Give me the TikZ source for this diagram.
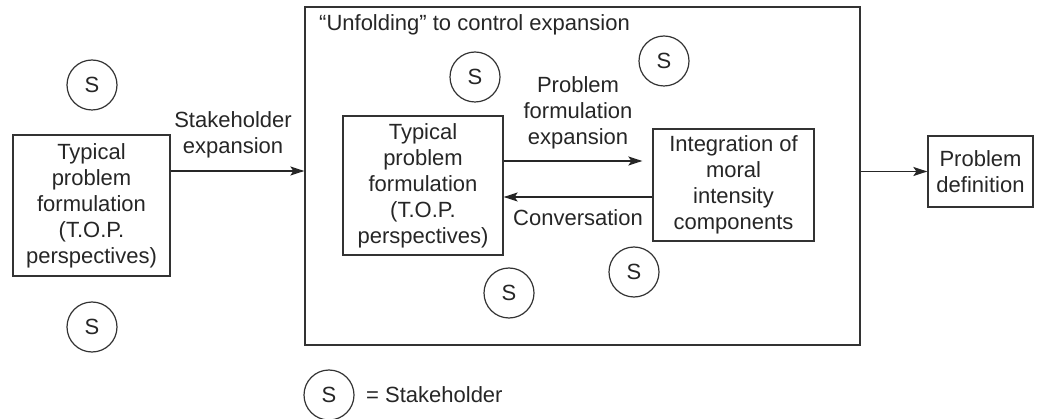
\documentclass[tikz,border=0pt]{standalone}
\usepackage{fontspec}
\setmainfont{Liberation Sans}
\usetikzlibrary{arrows.meta,calc}
\begin{document}
\begin{tikzpicture}[x=1pt,y=-1pt,
  every node/.style={font=\fontsize{22}{26}\selectfont, text=black!85, inner sep=0pt},
  box/.style={draw=black!80, line width=1.3pt, align=center},
  stk/.style={draw=black!80, line width=1.2pt, circle, minimum size=50pt},
  arr/.style={draw=black!85, line width=1.3pt, -{Stealth[length=14pt,width=9pt,inset=3pt]}}]
\useasboundingbox (0,0) rectangle (1040,419);
% outer frame
\node[box, minimum width=555pt, minimum height=338pt] (big) at (582.5,176) {};
\node[anchor=west] (title) at (319,25) {“Unfolding” to control expansion};
% left box
\node[box, minimum width=157pt, minimum height=141pt] (L) at (91.5,205.5)
  {Typical\\problem\\formulation\\(T.O.P.\\perspectives)};
\node[stk] (s1) at (92,85) {S};
\node[stk] (s2) at (92,327) {S};
\coordinate (a1) at (0,171);
\draw[arr] (L.east |- a1) -- (big.west |- a1);
\node[align=center] (lab1) at (233,135) {Stakeholder\\expansion};
% inner boxes
\node[box, minimum width=160pt, minimum height=139pt] (IL) at (423,185.5)
  {Typical\\problem\\formulation\\(T.O.P.\\perspectives)};
\node[box, minimum width=161pt, minimum height=112pt] (IR) at (733.5,185)
  {Integration of\\moral\\intensity\\components};
\coordinate (a2) at (0,161);
\coordinate (a3) at (0,197);
\draw[arr, shorten >=10pt] (IL.east |- a2) -- (IR.west |- a2);
\draw[arr] (IR.west |- a3) -- (IL.east |- a3);
\node[align=center] (lab2) at (578,113) {Problem\\formulation\\expansion};
\node (lab3) at (578,218) {Conversation};
\node[stk] (s3) at (475,77) {S};
\node[stk] (s4) at (664,61) {S};
\node[stk] (s5) at (509,293) {S};
\node[stk] (s6) at (634,272) {S};
% problem definition
\node[box, minimum width=105pt, minimum height=71pt] (P) at (980.5,171.5)
  {Problem\\definition};
\draw[arr] (big.east |- P.west) -- (P.west);
% legend
\node[stk] (sl) at (329,395) {S};
\node[anchor=west] (legend) at (366,395) {= Stakeholder};
\end{tikzpicture}
\end{document}
